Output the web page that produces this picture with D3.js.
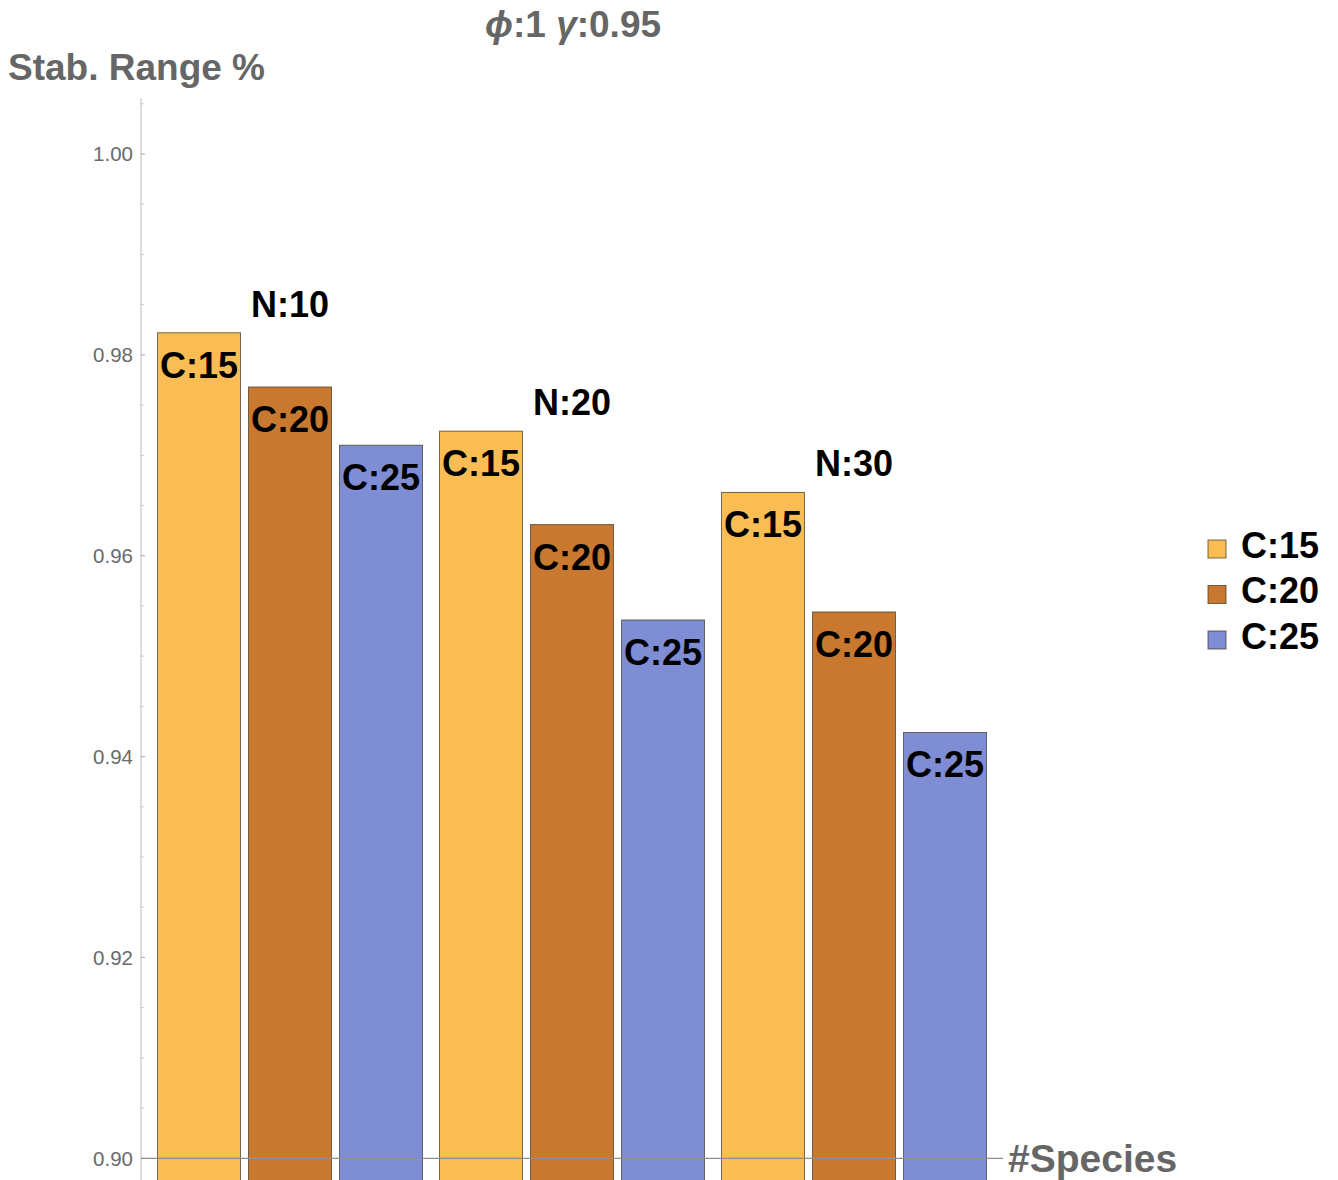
<!DOCTYPE html>
<html>
<head>
<meta charset="utf-8">
<script src="https://cdn.jsdelivr.net/npm/d3@7"></script>
<style>
  html, body { margin: 0; padding: 0; background: #fff; }
  svg { display: block; }
  text { font-family: "Liberation Sans", Arial, sans-serif; }
</style>
</head>
<body>
<svg id="chart" width="1338" height="1180"></svg>
<script>
// Stability range per species count (N) and connectance (C)
const groups = ["N:10", "N:20", "N:30"];
const series = ["C:15", "C:20", "C:25"];
const valuesC15 = [0.9822, 0.9724, 0.9663];
const valuesC20 = [0.9768, 0.9631, 0.9544];
const valuesC25 = [0.9710, 0.9536, 0.9424];
const seriesColors = ["#f9bd53", "#c8782f", "#7f8dd4"];
const majorTicks = [0.90, 0.92, 0.94, 0.96, 0.98, 1.00];
const minorTicks = [0.905, 0.91, 0.915, 0.925, 0.93, 0.935, 0.945, 0.95, 0.955,
                    0.965, 0.97, 0.975, 0.985, 0.99, 0.995, 1.005];

const seriesValues = [valuesC15, valuesC20, valuesC25];
const rows = groups.map((g, gi) => ({
  group: g,
  bars: series.map((s, si) => ({ series: s, value: seriesValues[si][gi], idx: si }))
}));

const W = 1338, H = 1180;
const svg = d3.select("#chart");

const axisX = 141;
const y = d3.scaleLinear().domain([0.90, 1.00]).range([1158.3, 154]);
const barBase = 0.895; // bars run off below the frame

const x0 = d3.scaleBand().domain(groups).range([149, 995])
  .paddingInner(16 / 282).paddingOuter(8 / 282);
const x1 = d3.scaleBand().domain(series).range([0, x0.bandwidth()])
  .paddingInner(7 / 91).paddingOuter(0);
const color = d3.scaleOrdinal().domain(series).range(seriesColors);

// bars
const g = svg.append("g");
const grp = g.selectAll("g.grp").data(rows).join("g")
  .attr("class", "grp")
  .attr("transform", d => `translate(${x0(d.group)},0)`);

grp.selectAll("rect").data(d => d.bars).join("rect")
  .attr("x", d => x1(d.series) + 0.5)
  .attr("width", x1.bandwidth() - 1)
  .attr("y", d => y(d.value))
  .attr("height", d => y(barBase) - y(d.value))
  .attr("fill", d => color(d.series))
  .attr("stroke", "rgba(70,60,50,0.75)")
  .attr("stroke-width", 1);

// labels inside the bars
grp.selectAll("text.bl").data(d => d.bars).join("text")
  .attr("class", "bl")
  .attr("x", d => x1(d.series) + x1.bandwidth() / 2)
  .attr("y", d => y(d.value) + 45)
  .attr("text-anchor", "middle")
  .attr("font-size", 36)
  .attr("font-weight", "bold")
  .attr("fill", "#000")
  .text(d => d.series);

// group labels above the middle bar
grp.append("text")
  .attr("x", x1(series[1]) + x1.bandwidth() / 2)
  .attr("y", d => y(d3.max(d.bars, b => b.value)) - 16)
  .attr("text-anchor", "middle")
  .attr("font-size", 36)
  .attr("font-weight", "bold")
  .attr("fill", "#000")
  .text(d => d.group);

// vertical axis
const ax = svg.append("g");
ax.append("line")
  .attr("x1", axisX).attr("x2", axisX)
  .attr("y1", 98).attr("y2", H)
  .attr("stroke", "#c8c8c8").attr("stroke-width", 1.2);
ax.selectAll("line.maj").data(majorTicks).join("line")
  .attr("class", "maj")
  .attr("x1", axisX).attr("x2", axisX + 4)
  .attr("y1", d => y(d)).attr("y2", d => y(d))
  .attr("stroke", "#aaa");
ax.selectAll("line.min").data(minorTicks).join("line")
  .attr("class", "min")
  .attr("x1", axisX).attr("x2", axisX + 2.5)
  .attr("y1", d => y(d)).attr("y2", d => y(d))
  .attr("stroke", "#bbb");
ax.selectAll("text").data(majorTicks).join("text")
  .attr("x", 133)
  .attr("y", d => y(d))
  .attr("dy", "0.36em")
  .attr("text-anchor", "end")
  .attr("font-size", 20.5)
  .attr("fill", "#6a6a6a")
  .text(d => d3.format(".2f")(d));

// horizontal axis line, drawn over the bars
svg.append("line")
  .attr("x1", axisX).attr("x2", 1003)
  .attr("y1", y(0.90)).attr("y2", y(0.90))
  .attr("stroke", "#8f8f8f").attr("stroke-width", 1.2);

// axis titles
svg.append("text")
  .attr("x", 8).attr("y", 80)
  .attr("font-size", 37).attr("font-weight", "bold").attr("fill", "#666")
  .text("Stab. Range %");
svg.append("text")
  .attr("x", 1008).attr("y", 1172)
  .attr("font-size", 39).attr("font-weight", "bold").attr("fill", "#666")
  .text("#Species");

// plot title
const title = svg.append("text")
  .attr("x", 573).attr("y", 37)
  .attr("text-anchor", "middle")
  .attr("font-size", 37).attr("font-weight", "bold").attr("fill", "#666");
title.append("tspan").attr("font-style", "italic").text("ϕ");
title.append("tspan").text(":1 ");
title.append("tspan").attr("font-style", "italic").text("γ");
title.append("tspan").text(":0.95");

// legend
const lg = svg.append("g").selectAll("g").data(series).join("g")
  .attr("transform", (d, i) => `translate(1208,${549 + i * 45.5})`);
lg.append("rect")
  .attr("x", 0).attr("y", -9).attr("width", 18).attr("height", 18)
  .attr("fill", d => color(d))
  .attr("stroke", "rgba(70,60,50,0.75)");
lg.append("text")
  .attr("x", 33).attr("y", -4).attr("dy", "0.36em")
  .attr("font-size", 36).attr("font-weight", "bold").attr("fill", "#000")
  .text(d => d);
</script>
</body>
</html>
